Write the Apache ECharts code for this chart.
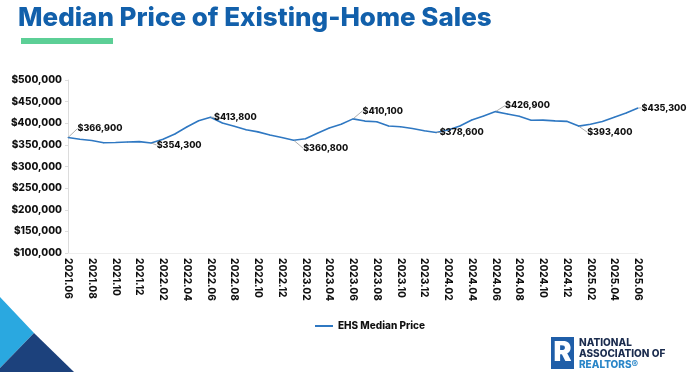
<!DOCTYPE html>
<html><head><meta charset="utf-8">
<script src="https://cdn.jsdelivr.net/npm/echarts@6/dist/echarts.min.js"></script>
<style>html,body{margin:0;padding:0;background:#fff}#c{width:690px;height:372px}</style>
</head><body><div id="c"></div>
<script>
const months = ["2021.06","2021.07","2021.08","2021.09","2021.10","2021.11","2021.12",
"2022.01","2022.02","2022.03","2022.04","2022.05","2022.06","2022.07","2022.08","2022.09","2022.10","2022.11","2022.12",
"2023.01","2023.02","2023.03","2023.04","2023.05","2023.06","2023.07","2023.08","2023.09","2023.10","2023.11","2023.12",
"2024.01","2024.02","2024.03","2024.04","2024.05","2024.06","2024.07","2024.08","2024.09","2024.10","2024.11","2024.12",
"2025.01","2025.02","2025.03","2025.04","2025.05","2025.06"];
const medianPrice = [366900,363000,360000,355000,355500,356500,357500,
354300,363000,375300,391200,405600,413800,400500,393000,385000,380000,373000,367000,
360800,364000,377000,388800,397500,410100,405000,403500,393500,392000,388000,382600,
378600,384500,393500,407600,417000,426900,421500,416000,407000,407200,405600,404400,
393400,397500,404000,414000,423500,435300];
const labelIdx = [0,7,12,19,24,31,36,43,48];
const yTicks = {min:100000,max:500000,interval:50000};
// label offsets (dx,dy) relative to default 'right' position
const labelMove = {0:[6,-9],7:[2,2],12:[0,0],19:[6,8],24:[6,-8],31:[0,0],36:[6,-6],43:[5,6],48:[0,0]};

const fmt = v => '$' + v.toLocaleString('en-US');
const chart = echarts.init(document.getElementById('c'));
const data = medianPrice.map((v,i)=>({
  value:v,
  label:{show:labelIdx.includes(i)}
}));
chart.setOption({
  animation:false,
  textStyle:{fontFamily:'Inter'},
  grid:{left:68,right:52,top:80,bottom:119},
  legend:{data:['EHS Median Price'],left:310,top:316,itemWidth:18,itemHeight:2,itemGap:3,
    icon:'rect',
    textStyle:{fontFamily:'Inter',fontWeight:800,fontSize:10,color:'#111'}},
  xAxis:{type:'category',data:months,boundaryGap:false,
    axisLine:{show:true,lineStyle:{color:'#eeeeee'}},axisTick:{show:false},
    axisLabel:{interval:1,rotate:-90,margin:5,fontFamily:'Inter',fontWeight:800,fontSize:10,color:'#111'}},
  yAxis:{type:'value',min:yTicks.min,max:yTicks.max,interval:yTicks.interval,
    axisLine:{show:true,lineStyle:{color:'#dcdcdc'}},axisTick:{show:true,length:3,lineStyle:{color:'#dcdcdc'}},
    splitLine:{show:false},
    axisLabel:{margin:6,fontFamily:'Inter',fontWeight:800,fontSize:10,color:'#111',formatter:v=>fmt(v)}},
  series:[{
    name:'EHS Median Price',type:'line',data:data,
    symbol:'circle',symbolSize:1,showSymbol:true,
    itemStyle:{color:'#2f78c2'},
    lineStyle:{color:'#2f78c2',width:1.6},
    label:{show:false,position:'right',distance:3,formatter:p=>fmt(p.value),
      fontFamily:'Inter',fontWeight:800,fontSize:9,color:'#111'},
    labelLine:{show:true,lineStyle:{color:'#999',width:0.8},length2:0},
    labelLayout:function(p){const m=labelMove[p.dataIndex]; if(!m) return {}; return {dx:m[0],dy:m[1]};}
  }],
  graphic:[
    {type:'text',left:18,top:5,style:{text:'Median Price of Existing-Home Sales',fontFamily:'Inter',fontWeight:800,fontSize:26,fill:'#1260ab'}},
    {type:'rect',shape:{x:21,y:38,width:92,height:6},style:{fill:'#5ccf96'}},
    {type:'polygon',shape:{points:[[0,297],[34,333],[0,368]]},style:{fill:'#2aa8e0'}},
    {type:'polygon',shape:{points:[[34,333],[74,372],[0,372],[0,368]]},style:{fill:'#1c417c'}},
    {type:'rect',shape:{x:551,y:337,width:23,height:32},style:{fill:'#1f5ea8'}},
    {type:'text',x:562.5,y:353,style:{text:'R',fontFamily:'Inter',fontWeight:900,fontSize:27,fill:'#fff',align:'center',verticalAlign:'middle'}},
    {type:'text',x:579,y:338,style:{text:'NATIONAL',fontFamily:'Inter',fontWeight:800,fontSize:10,fill:'#1b2c4e'}},
    {type:'text',x:579,y:349,style:{text:'ASSOCIATION OF',fontFamily:'Inter',fontWeight:800,fontSize:10,fill:'#1b2c4e'}},
    {type:'text',x:579,y:360,style:{text:'REALTORS®',fontFamily:'Inter',fontWeight:800,fontSize:10,fill:'#2a86c8'}}
  ]
});
</script></body></html>
